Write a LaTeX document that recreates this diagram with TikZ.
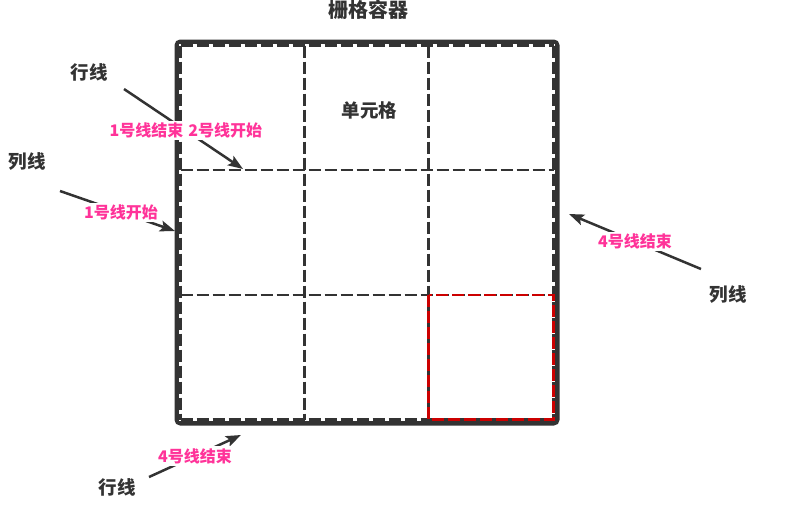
\documentclass[tikz,border=0pt]{standalone}
\usepackage{fontspec}
\setmainfont{Noto Sans CJK SC}
\usetikzlibrary{arrows.meta}
\definecolor{dk}{HTML}{333333}
\definecolor{pk}{HTML}{FF3399}
\definecolor{rd}{HTML}{CC0000}
\begin{document}
\begin{tikzpicture}[x=1pt,y=-1pt,
  lbl/.style={text=dk,font=\bfseries\fontsize{18.5}{20}\selectfont,inner sep=0pt},
  ttl/.style={text=dk,font=\bfseries\fontsize{20}{22}\selectfont,inner sep=0pt},
  plbl/.style={text=pk,font=\bfseries\fontsize{16}{18}\selectfont,fill=white,inner xsep=1pt,inner ysep=2pt},
  arr/.style={draw=dk,line width=2.5pt,-{Stealth[length=15pt,width=11pt,inset=3pt]}},
  gridln/.style={draw=dk,line width=2.5pt,dash pattern=on 12pt off 4pt},
  redcell/.style={draw=rd,line width=2.5pt,dash pattern=on 12pt off 4pt},
  border/.style={draw=dk,line width=6pt,rounded corners=3pt}
  ]
\useasboundingbox (0,0) rectangle (786,512);

% arrow end points
\coordinate (a1s) at (124,89);
\coordinate (a1e) at (243,169);
\coordinate (a2s) at (60,191);
\coordinate (a2e) at (175,231);
\coordinate (a3s) at (701,269);
\coordinate (a3e) at (569,214);
\coordinate (a4s) at (149,477);
\coordinate (a4e) at (241,435);

% container border
\draw[border] (177.5,42.5) rectangle (556.5,422.5);
% cell outline white underlay
\draw[white,line width=2.5pt] (180.5,45.5) rectangle (553.5,419.5);
% grid dashed lines
\draw[gridln] (180.5,45.5) -- (553.5,45.5);
\draw[gridln] (180.5,170) -- (553.5,170);
\draw[gridln] (180.5,295) -- (553.5,295);
\draw[gridln] (180.5,419.5) -- (553.5,419.5);
\draw[gridln] (180.5,45.5) -- (180.5,419.5);
\draw[gridln] (304.7,45.5) -- (304.7,419.5);
\draw[gridln] (428.5,45.5) -- (428.5,419.5);
\draw[gridln] (553.5,45.5) -- (553.5,419.5);
% highlighted cell
\draw[redcell] (428.5,295) rectangle (553.5,419.5);

% arrows with labels
\draw[arr] (a1s) -- node[plbl,pos=0.52] (l1) {1号线结束\hspace{0.3em}2号线开始} (a1e);
\draw[arr] (a2s) -- node[plbl,pos=0.53] (l2) {1号线开始} (a2e);
\draw[arr] (a3s) -- node[plbl,pos=0.5] (l3) {4号线结束} (a3e);
\draw[arr] (a4s) -- node[plbl,pos=0.5] (l4) {4号线结束} (a4e);

% texts
\node[ttl] (title) at (368.5,10) {栅格容器};
\node[lbl] (cell) at (369.5,110) {单元格};
\node[lbl] (row1) at (89,72.5) {行线};
\node[lbl] (col1) at (27.5,162) {列线};
\node[lbl] (col2) at (728,295) {列线};
\node[lbl] (row2) at (117,487) {行线};
\end{tikzpicture}
\end{document}
